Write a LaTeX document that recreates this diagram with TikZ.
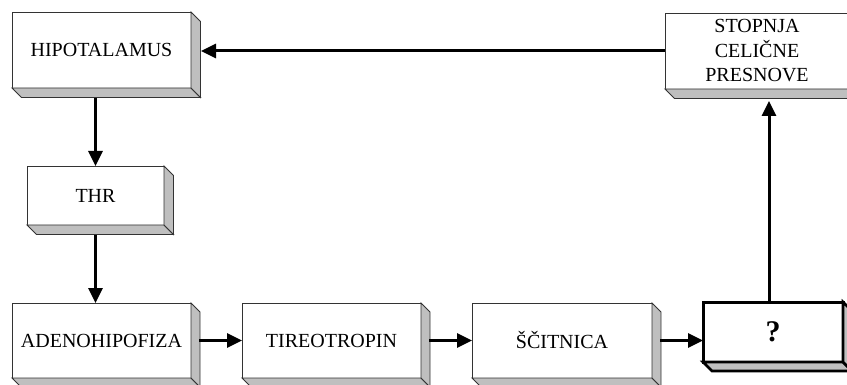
\documentclass[tikz,border=0pt]{standalone}
\usepackage{fontspec}
\setmainfont{Liberation Serif}
\usetikzlibrary{arrows.meta}
\tikzset{
  box/.style={draw=black!80, line width=0.9pt, fill=white, inner sep=0pt, outer sep=0pt,
    align=center, font=\fontsize{20}{24.5}\selectfont},
  qbox/.style={box, draw=black, line width=3pt},
  face/.style={draw=black!80, line width=0.9pt, fill=black!25, line join=miter},
  qface/.style={face, draw=black, line width=2.6pt},
  arr/.style={line width=3pt, -{Triangle[length=15pt,width=14pt]}},
}
\newcommand\bevelbox[3][face]{%
  \filldraw[#1] (#2.south west) -- ++(#3,#3) -- ([shift={(#3,#3)}]#2.south east) -- (#2.south east) -- cycle;
  \filldraw[#1] (#2.north east) -- ++(#3,#3) -- ([shift={(#3,#3)}]#2.south east) -- (#2.south east) -- cycle;
}
\begin{document}
\begin{tikzpicture}[x=1pt,y=-1pt]
\useasboundingbox (0,0) rectangle (847,385);
\clip (0,0) rectangle (847,385);
\node[box, minimum width=179pt, minimum height=76pt] (hipo) at (101.5,50) {HIPOTALAMUS};
\node[box, minimum width=137pt, minimum height=59pt] (thr) at (95.5,195.5) {THR};
\node[box, minimum width=179pt, minimum height=75pt] (adeno) at (101.5,340.5) {ADENOHIPOFIZA};
\node[box, minimum width=179pt, minimum height=75pt] (tireo) at (331.5,340.5) {TIREOTROPIN};
\node[box, minimum width=180pt, minimum height=75pt] (scit) at (562,340.5) {ŠČITNICA};
\node[qbox, minimum width=140pt, minimum height=60pt, font=\fontsize{30}{30}\selectfont\bfseries] (q) at (773,332) {?};
\node[box, minimum width=184pt, minimum height=76pt] (stop) at (757,51) {STOPNJA\\CELIČNE\\PRESNOVE};
\bevelbox{hipo}{9.5}
\bevelbox{thr}{9.5}
\bevelbox{adeno}{9}
\bevelbox{tireo}{9}
\bevelbox{scit}{9}
\bevelbox[qface]{q}{9}
\bevelbox{stop}{9.5}
% connectors
\draw[arr, shorten >=10pt] (stop.west) -- (stop.west -| hipo.east);
\draw[arr, shorten <=10pt] (hipo.south -| thr.north) -- (thr.north);
\draw[arr, shorten <=10pt] (thr.south) -- (thr.south |- adeno.north);
\draw[arr, shorten <=8pt] (adeno.east) -- (tireo.west);
\draw[arr, shorten <=8pt] (tireo.east) -- (scit.west);
\draw[arr, shorten <=8pt] (scit.east) -- (scit.east -| q.west);
\draw[arr, shorten >=12pt] ([xshift=-4pt]q.north) -- ([xshift=-4pt]q.north |- stop.south);
\end{tikzpicture}
\end{document}
